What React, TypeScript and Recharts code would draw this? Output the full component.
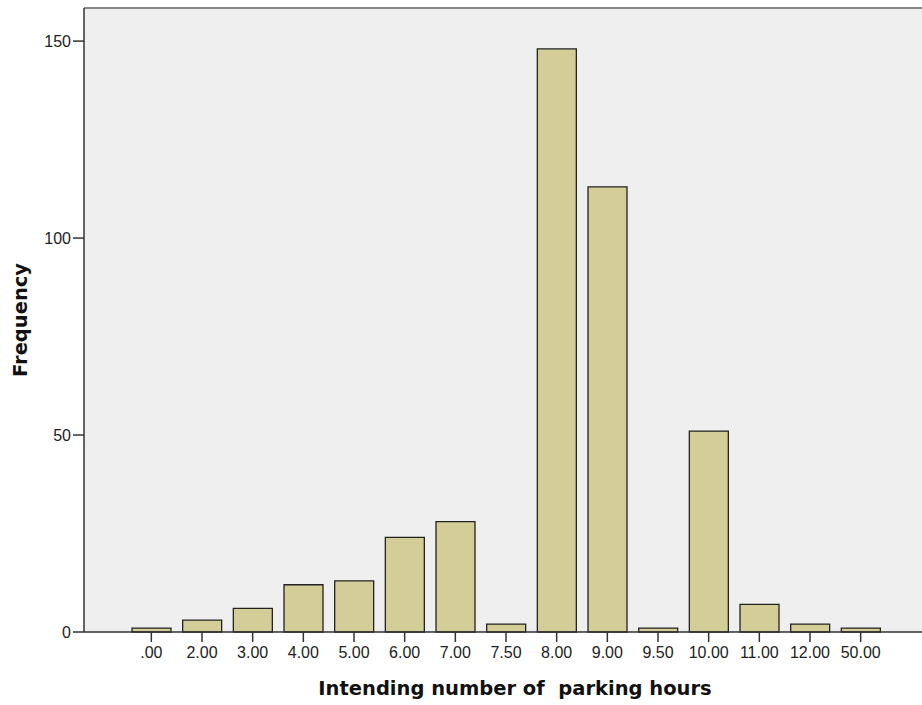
import React from 'react';
import { BarChart, Bar, XAxis, YAxis, CartesianGrid, ReferenceLine } from 'recharts';

const HOURS = ['.00', '2.00', '3.00', '4.00', '5.00', '6.00', '7.00', '7.50', '8.00', '9.00', '9.50', '10.00', '11.00', '12.00', '50.00'];
const FREQUENCY = [1, 3, 6, 12, 13, 24, 28, 2, 148, 113, 1, 51, 7, 2, 1];
const Y_TICKS = [0, 50, 100, 150];
const Y_MAX = 158.4;

const data = HOURS.map((h, i) => ({ hours: h, count: FREQUENCY[i] }));

const tickStyle = { fontFamily: 'Arial, "Liberation Sans", sans-serif', fontSize: 16, fill: '#222' };
const titleStyle = { fontFamily: '"DejaVu Sans", sans-serif', fontSize: 19.5, fontWeight: 'bold', fill: '#111' };

export default function App() {
  return (
    <div>
      <style>{'body{margin:0}'}</style>
      <BarChart width={922} height={705} data={data} margin={{ top: 8, right: 0, left: 0, bottom: 0 }}>
        <CartesianGrid fill="#efefef" horizontal={false} vertical={false} />
        <XAxis
          dataKey="hours"
          height={73}
          padding={{ left: 42, right: 36 }}
          tick={tickStyle}
          tickSize={10}
          tickMargin={5}
          stroke="#333"
          strokeWidth={1.5}
          interval={0}
          label={{
            // nbsp keeps the double space, Recharts collapses plain spaces
            value: 'Intending number of\u00A0 parking hours',
            position: 'insideBottom',
            offset: 10,
            dx: 12,
            style: titleStyle,
          }}
        />
        <YAxis
          width={84}
          domain={[0, Y_MAX]}
          ticks={Y_TICKS}
          tick={tickStyle}
          tickSize={11}
          stroke="#333"
          strokeWidth={1.5}
          label={{
            value: 'Frequency',
            angle: -90,
            position: 'insideLeft',
            offset: 20,
            style: { ...titleStyle, textAnchor: 'middle' },
          }}
        />
        <ReferenceLine y={Y_MAX} stroke="#888" strokeWidth={2} />
        <Bar dataKey="count" barSize={39} fill="#d3ce97" stroke="#222" strokeWidth={1.3} isAnimationActive={false} />
      </BarChart>
    </div>
  );
}
